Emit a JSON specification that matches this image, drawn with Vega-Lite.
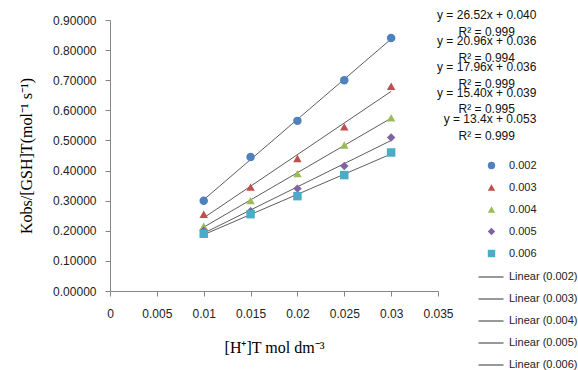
{
  "$schema": "https://vega.github.io/schema/vega-lite/v6.json",
  "width": 328,
  "height": 271,
  "autosize": "none",
  "padding": {"left": 110, "top": 20, "right": 140, "bottom": 79},
  "background": "white",
  "config": {
    "view": {"stroke": null},
    "font": "Liberation Sans",
    "axis": {"labelOverlap": false, "labelFlush": false}
  },
  "datasets": {
    "pts": [
      {"x": 0.01, "y": 0.300, "series": "0.002", "trend": "Linear (0.002)"},
      {"x": 0.015, "y": 0.445, "series": "0.002", "trend": "Linear (0.002)"},
      {"x": 0.02, "y": 0.565, "series": "0.002", "trend": "Linear (0.002)"},
      {"x": 0.025, "y": 0.700, "series": "0.002", "trend": "Linear (0.002)"},
      {"x": 0.03, "y": 0.840, "series": "0.002", "trend": "Linear (0.002)"},
      {"x": 0.01, "y": 0.255, "series": "0.003", "trend": "Linear (0.003)"},
      {"x": 0.015, "y": 0.345, "series": "0.003", "trend": "Linear (0.003)"},
      {"x": 0.02, "y": 0.440, "series": "0.003", "trend": "Linear (0.003)"},
      {"x": 0.025, "y": 0.545, "series": "0.003", "trend": "Linear (0.003)"},
      {"x": 0.03, "y": 0.680, "series": "0.003", "trend": "Linear (0.003)"},
      {"x": 0.01, "y": 0.215, "series": "0.004", "trend": "Linear (0.004)"},
      {"x": 0.015, "y": 0.300, "series": "0.004", "trend": "Linear (0.004)"},
      {"x": 0.02, "y": 0.390, "series": "0.004", "trend": "Linear (0.004)"},
      {"x": 0.025, "y": 0.485, "series": "0.004", "trend": "Linear (0.004)"},
      {"x": 0.03, "y": 0.575, "series": "0.004", "trend": "Linear (0.004)"},
      {"x": 0.01, "y": 0.200, "series": "0.005", "trend": "Linear (0.005)"},
      {"x": 0.015, "y": 0.265, "series": "0.005", "trend": "Linear (0.005)"},
      {"x": 0.02, "y": 0.340, "series": "0.005", "trend": "Linear (0.005)"},
      {"x": 0.025, "y": 0.415, "series": "0.005", "trend": "Linear (0.005)"},
      {"x": 0.03, "y": 0.510, "series": "0.005", "trend": "Linear (0.005)"},
      {"x": 0.01, "y": 0.190, "series": "0.006", "trend": "Linear (0.006)"},
      {"x": 0.015, "y": 0.255, "series": "0.006", "trend": "Linear (0.006)"},
      {"x": 0.02, "y": 0.315, "series": "0.006", "trend": "Linear (0.006)"},
      {"x": 0.025, "y": 0.385, "series": "0.006", "trend": "Linear (0.006)"},
      {"x": 0.03, "y": 0.460, "series": "0.006", "trend": "Linear (0.006)"}
    ],
    "eqs": [
      {"x": 0.0402, "y": 0.9166, "label": "y = 26.52x + 0.040"},
      {"x": 0.0402, "y": 0.8601, "label": "R² = 0.999"},
      {"x": 0.0402, "y": 0.8303, "label": "y = 20.96x + 0.036"},
      {"x": 0.0402, "y": 0.7738, "label": "R² = 0.994"},
      {"x": 0.0402, "y": 0.7439, "label": "y = 17.96x + 0.036"},
      {"x": 0.0402, "y": 0.6875, "label": "R² = 0.999"},
      {"x": 0.0402, "y": 0.6576, "label": "y = 15.40x + 0.039"},
      {"x": 0.0402, "y": 0.6044, "label": "R² = 0.995"},
      {"x": 0.04055, "y": 0.5712, "label": "y = 13.4x + 0.053"},
      {"x": 0.0402, "y": 0.5148, "label": "R² = 0.999"}
    ]
  },
  "encoding": {
    "x": {
      "field": "x", "type": "quantitative",
      "scale": {"domain": [0, 0.035], "nice": false, "zero": false},
      "axis": {
        "values": [0, 0.005, 0.01, 0.015, 0.02, 0.025, 0.03, 0.035],
        "format": ".3~f",
        "title": "[H⁺]T mol dm⁻³",
        "titleFont": "Liberation Serif",
        "titleFontSize": 16,
        "titleFontWeight": "normal",
        "titleColor": "#000",
        "titlePadding": 20,
        "labelFont": "Liberation Sans",
        "labelFontSize": 12,
        "labelColor": "#222",
        "labelPadding": 12,
        "grid": false,
        "domainColor": "#868686",
        "tickColor": "#868686",
        "tickSize": 5
      }
    },
    "y": {
      "field": "y", "type": "quantitative",
      "scale": {"domain": [0, 0.9], "nice": false, "zero": false},
      "axis": {
        "values": [0, 0.1, 0.2, 0.3, 0.4, 0.5, 0.6, 0.7, 0.8, 0.9],
        "format": ".5f",
        "title": "Kobs/[GSH]T(mol⁻¹ s⁻¹)",
        "titleFont": "Liberation Serif",
        "titleFontSize": 16,
        "titleFontWeight": "normal",
        "titleColor": "#000",
        "titlePadding": 18,
        "labelFont": "Liberation Sans",
        "labelFontSize": 12,
        "labelColor": "#222",
        "labelPadding": 9,
        "grid": false,
        "domainColor": "#868686",
        "tickColor": "#868686",
        "tickSize": 5
      }
    }
  },
  "layer": [
    {
      "data": {"name": "pts"},
      "transform": [
        {"regression": "y", "on": "x", "groupby": ["series", "trend"], "extent": [0.01, 0.03]}
      ],
      "mark": {"type": "line", "strokeWidth": 0.8},
      "encoding": {
        "detail": {"field": "series"},
        "stroke": {
          "field": "trend", "type": "nominal",
          "scale": {"range": ["#333", "#333", "#333", "#333", "#333"]},
          "legend": {
            "title": null,
            "orient": "none",
            "legendX": 368,
            "legendY": 244,
            "symbolType": "stroke",
            "symbolSize": 625,
            "symbolStrokeWidth": 1,
            "symbolStrokeColor": "#000",
            "labelFont": "Liberation Sans",
            "labelFontSize": 11,
            "labelColor": "#222",
            "labelOffset": 5,
            "rowPadding": 4,
            "padding": 0
          }
        }
      }
    },
    {
      "data": {"name": "pts"},
      "mark": {"type": "point", "filled": true, "opacity": 1, "size": 72},
      "encoding": {
        "color": {
          "field": "series", "type": "nominal",
          "scale": {"domain": ["0.002", "0.003", "0.004", "0.005", "0.006"], "range": ["#4F81BD", "#C0504D", "#9BBB59", "#8064A2", "#4BACC6"]},
          "legend": {
            "title": null,
            "orient": "none",
            "legendX": 376,
            "legendY": 140,
            "labelFont": "Liberation Sans",
            "labelFontSize": 11,
            "labelColor": "#222",
            "labelOffset": 12,
            "rowPadding": 10,
            "padding": 0,
            "symbolSize": 55
          }
        },
        "shape": {
          "field": "series", "type": "nominal",
          "scale": {"domain": ["0.002", "0.003", "0.004", "0.005", "0.006"], "range": ["circle", "triangle-up", "triangle-up", "diamond", "square"]}
        }
      }
    },
    {
      "data": {"name": "eqs"},
      "mark": {"type": "text", "font": "Liberation Sans", "fontSize": 12, "color": "#111", "align": "center", "baseline": "middle"},
      "encoding": {
        "text": {"field": "label"}
      }
    }
  ]
}
